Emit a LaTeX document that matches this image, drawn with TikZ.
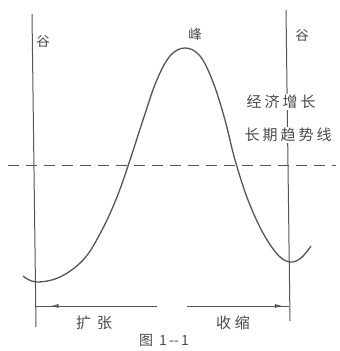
\documentclass[tikz,border=0pt]{standalone}
\usepackage{fontspec}
\newfontfamily\cjk{Noto Sans CJK SC}
\usetikzlibrary{arrows.meta,decorations.markings}
\definecolor{ink}{HTML}{555555}
\definecolor{txt}{HTML}{4A4A4A}
\begin{document}
\begin{tikzpicture}[x=1pt,y=-1pt,
  lbl/.style={font=\cjk\fontsize{13.5}{13.5}\selectfont, text=txt, inner sep=1pt},
  big/.style={font=\cjk\fontsize{15}{15}\selectfont, text=txt, inner sep=1pt, fill=white},
  axis/.style={draw=ink, line width=1pt},
  curve/.style={draw=ink, line width=1.3pt},
  trend/.style={draw=ink, line width=1pt, dash pattern=on 11pt off 7pt},
  arrL/.style={draw=ink, line width=1pt, postaction={decorate}, decoration={markings,
     mark=at position 0.88 with {\arrow{Latex[length=8pt,width=4pt]}}}},
  arrR/.style={draw=ink, line width=1pt, postaction={decorate}, decoration={markings,
     mark=at position 0.94 with {\arrow{Latex[length=8pt,width=4pt]}}}}]
\useasboundingbox (0,0) rectangle (340,351);
% vertical lines
\coordinate (lt) at (32,14);
\coordinate (lb) at (36,327);
\coordinate (rt) at (286,10);
\coordinate (rb) at (290,321);
\draw[axis] (lt) -- (lb);
\draw[axis] (rt) -- (rb);
% trend line
\coordinate (dl) at (8,165);
\coordinate (dr) at (336,165);
\draw[trend] (dl) -- (dr);
% curve
\draw[curve] plot[smooth, tension=0.6] coordinates {
 (23,276) (36,282) (60,277) (84,259) (102,230) (117,197) (129,163) (143,120)
 (156,82) (170,56) (185,48) (200,56) (213,82) (225,120) (235,160) (248,200)
 (263,233) (278,255) (290,262) (301,258) (311,246)};
% labels
\node[lbl] (g1) at (43,41) {谷};
\node[lbl] (f) at (195,34) {峰};
\node[lbl] (g2) at (302,35) {谷};
\node[big] (jj) at (281,102) {经\hspace{3pt}济\hspace{3pt}增\hspace{3pt}长};
\node[big] (cq) at (288,135) {长\hspace{3pt}期\hspace{3pt}趋\hspace{3pt}势\hspace{3pt}线};
% arrows
\coordinate (la) at (157,306);
\coordinate (ra) at (187,306);
\coordinate (lae) at (36,306);
\coordinate (rae) at (289,306);
\draw[arrL] (la) -- (lae);
\draw[arrR] (ra) -- (rae);
\node[big, fill=none] (kz) at (94,323) {扩\hspace{6pt}张};
\node[big, fill=none] (ss) at (233,323) {收\hspace{4pt}缩};
\node[lbl, font=\cjk\fontsize{14}{14}\selectfont] (cap) at (164,340) {图\hspace{6pt}1\,--\,1};
\end{tikzpicture}
\end{document}
